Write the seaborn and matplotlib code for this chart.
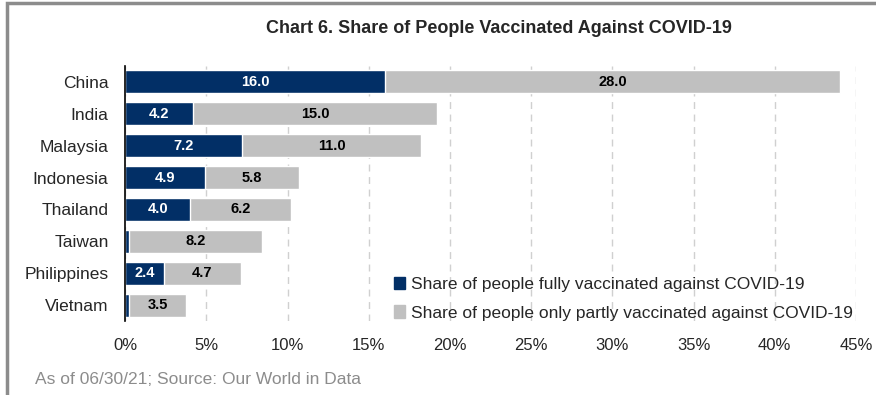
import matplotlib

matplotlib.use("Agg")
import matplotlib.pyplot as plt
import pandas as pd
import seaborn as sns
from matplotlib.patches import Patch, Rectangle

countries = ["China", "India", "Malaysia", "Indonesia", "Thailand", "Taiwan", "Philippines", "Vietnam"]
fully = [16.0, 4.2, 7.2, 4.9, 4.0, 0.25, 2.4, 0.25]
partly = [28.0, 15.0, 11.0, 5.8, 6.2, 8.2, 4.7, 3.5]
fully_labels = ["16.0", "4.2", "7.2", "4.9", "4.0", "", "2.4", ""]
partly_labels = ["28.0", "15.0", "11.0", "5.8", "6.2", "8.2", "4.7", "3.5"]

NAVY = "#022f66"
GREY = "#c0c0c0"

sns.set_theme(style="white")
plt.rcParams["font.family"] = ["Liberation Sans", "DejaVu Sans"]

df = pd.DataFrame({"country": countries, "fully": fully, "partly": partly})
df["total"] = df["fully"] + df["partly"]

fig = plt.figure(figsize=(8.76, 3.95), dpi=100)
ax = fig.add_axes([0.143, 0.187, 0.834, 0.646])

sns.barplot(data=df, x="total", y="country", color=GREY, width=0.72,
            saturation=1, ax=ax, orient="h")
sns.barplot(data=df, x="fully", y="country", color=NAVY, width=0.72,
            saturation=1, ax=ax, orient="h")

for i, r in enumerate(df.itertuples()):
    if fully_labels[i]:
        ax.text(r.fully / 2, i, fully_labels[i], ha="center", va="center",
                color="white", fontsize=10.5, fontweight="bold")
    ax.text(r.fully + r.partly / 2, i, partly_labels[i], ha="center", va="center",
            color="black", fontsize=10.5, fontweight="bold")

ax.set_xlim(0, 45)
ax.set_ylim(7.5, -0.5)
ax.set_xticks(range(0, 46, 5))
ax.set_xticklabels([f"{t}%" for t in range(0, 46, 5)], fontsize=12)
ax.tick_params(axis="y", labelsize=12.5, length=0, pad=12)
ax.tick_params(axis="x", length=0, pad=12)
ax.set_xlabel("")
ax.set_ylabel("")
ax.grid(axis="x", color="#d0d0d0", linestyle=(0, (5, 4)), linewidth=1)
ax.set_axisbelow(True)
for side in ["top", "right", "bottom"]:
    ax.spines[side].set_visible(False)
ax.spines["left"].set_color("black")
ax.spines["left"].set_linewidth(1.2)

handles = [
    Patch(color=NAVY, label="Share of people fully vaccinated against COVID-19"),
    Patch(color=GREY, label="Share of people only partly vaccinated against COVID-19"),
]
fig.legend(handles=handles, loc="upper left", bbox_to_anchor=(0.44, 0.32),
           frameon=False, fontsize=12.5, handlelength=0.6, handleheight=0.7,
           handletextpad=0.4, labelspacing=0.75, borderpad=0)

fig.text(0.57, 0.928, "Chart 6. Share of People Vaccinated Against COVID-19",
         ha="center", va="center", fontsize=13, fontweight="bold")
fig.text(0.04, 0.038, "As of 06/30/21; Source: Our World in Data",
         ha="left", va="center", fontsize=12.5, color="#8c8c8c")

fig.patches.append(Rectangle((0.008, -0.1), 1.2, 1.092, transform=fig.transFigure,
                             fill=False, edgecolor="#8c8c8c", linewidth=2.5))

fig.savefig("out.png", dpi=100)
